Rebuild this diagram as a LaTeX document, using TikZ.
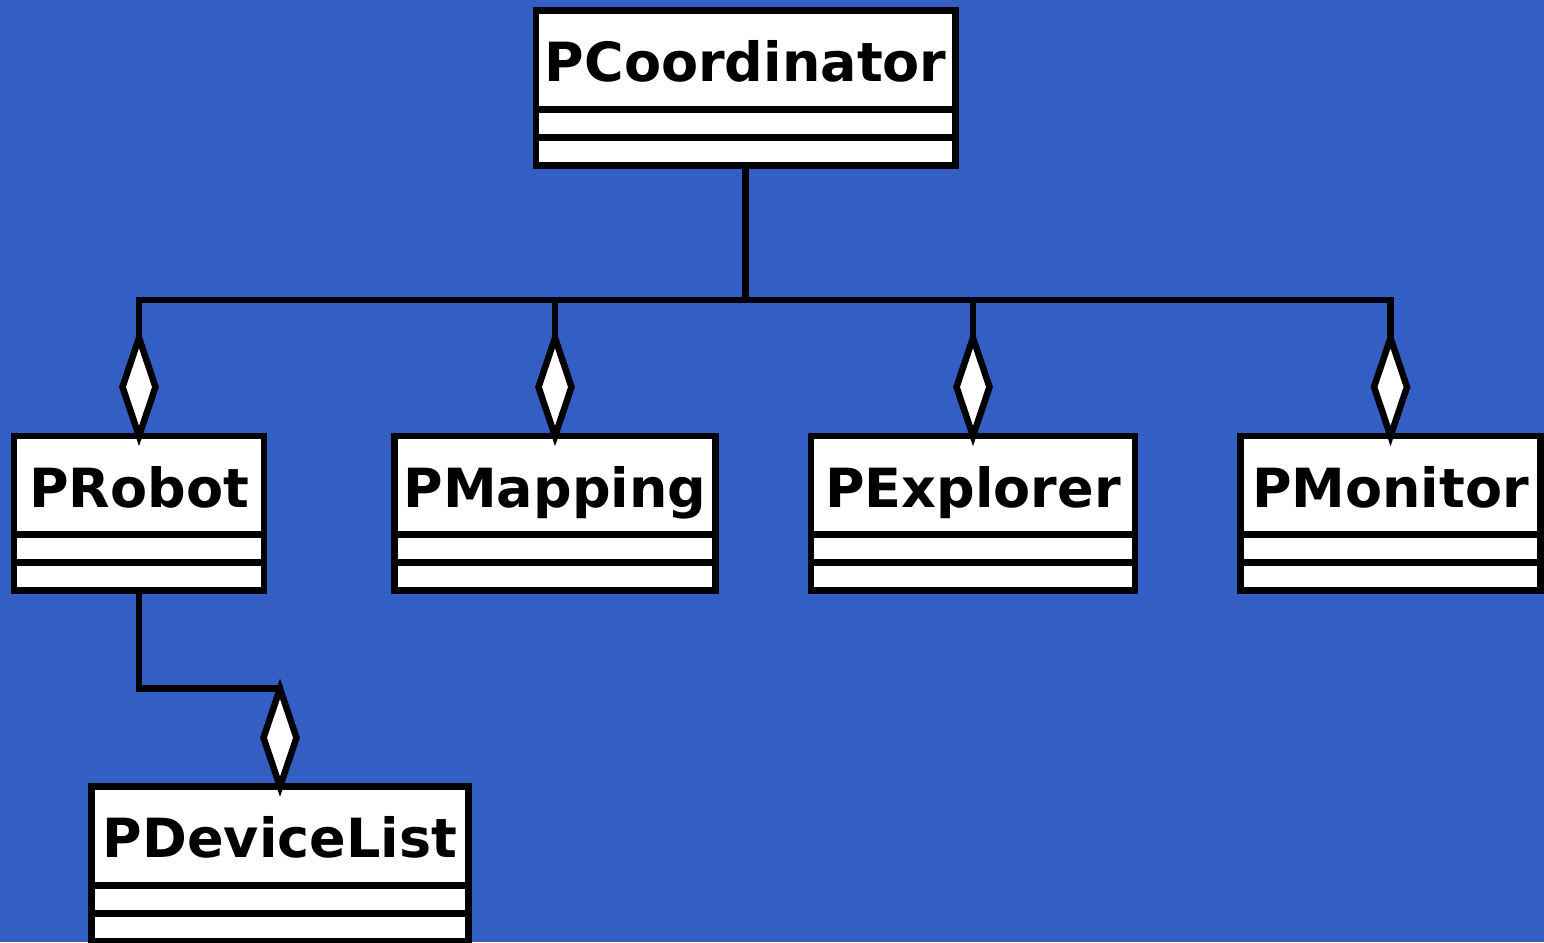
\documentclass[tikz,border=0pt]{standalone}
\usepackage{fontspec}
\setmainfont{DejaVu Sans}
\usetikzlibrary{calc}
\definecolor{bg}{RGB}{51,94,196}
\tikzset{
  umlbox/.style={draw=black, fill=white, line width=6.5pt, rectangle, inner sep=0pt, outer sep=0pt, minimum height=154.6pt},
  umlname/.style={font=\bfseries\fontsize{54}{54}\selectfont, anchor=base, inner sep=0pt, outer sep=0pt, text=black},
  sepline/.style={line width=6.5pt},
  conn/.style={line width=6.5pt},
  agg/.style={line width=6.5pt, draw=black, fill=white, miter limit=20},
}
\newcommand\umlclass[5]{%
  \node[umlbox, minimum width=#5pt] (#1) at (#3, #4+77.3) {};
  \node[umlname] (#1-name) at ($(#1.north)+(0,71)$) {#2};
  \draw[sepline] ($(#1.north west)+(0,98.6)$) -- ($(#1.north east)+(0,98.6)$);
  \draw[sepline] ($(#1.north west)+(0,126.6)$) -- ($(#1.north east)+(0,126.6)$);
}
\newcommand\aggdiamond[1]{%
  \draw[agg] (#1.north) -- ++(-16.5,-49) -- ++(16.5,-49) -- ++(16.5,49) -- cycle;
}
\begin{document}
\begin{tikzpicture}[x=1pt, y=-1pt]
  \useasboundingbox (0,0) rectangle (1544,942);
  \fill[bg] (0,0) rectangle (1544,942);
  \umlclass{coord}{PCoordinator}{745.7}{10.7}{419.3}
  \umlclass{robot}{PRobot}{139}{436}{250}
  \umlclass{mapping}{PMapping}{555}{436}{320.6}
  \umlclass{explorer}{PExplorer}{973}{436}{324}
  \umlclass{monitor}{PMonitor}{1390.5}{436}{299.6}
  \umlclass{devlist}{PDeviceList}{280}{786.7}{377.4}
  % connectors
  \draw[conn] (coord.south) -- ++(0,134.7) coordinate (bus) -| (robot.north);
  \draw[conn] (bus) -| (mapping.north);
  \draw[conn] (bus) -| (explorer.north);
  \draw[conn] (bus) -| (monitor.north);
  \draw[conn] (robot.south) -- ++(0,98) -| (devlist.north);
  % aggregation diamonds
  \aggdiamond{robot}
  \aggdiamond{mapping}
  \aggdiamond{explorer}
  \aggdiamond{monitor}
  \aggdiamond{devlist}
\end{tikzpicture}
\end{document}
